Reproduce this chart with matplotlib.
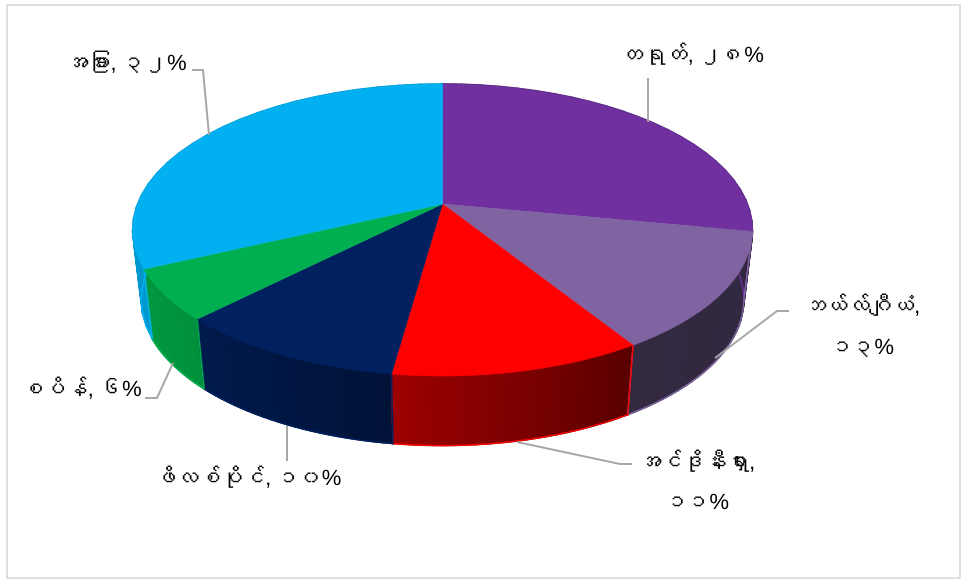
import numpy as np
import matplotlib
matplotlib.use("Agg")
import matplotlib.pyplot as plt
from matplotlib import font_manager as fm
from matplotlib.collections import PolyCollection
from matplotlib.patches import Rectangle
from matplotlib.transforms import Transform
from matplotlib.ft2font import FT2Font

countries = ["တရုတ်", "ဘယ်လ်ဂျီယံ", "အင်ဒိုနီးရှား", "ဖိလစ်ပိုင်", "စပိန်", "အခြား"]
shares = [28.0, 13.1, 11.1, 10.2, 5.6, 32.0]
share_labels = ["၂၈%", "၁၃%", "၁၁%", "၁၀%", "၆%", "၃၂%"]
top_colors = ["#7030A0", "#8064A2", "#FF0000", "#002060", "#00B050", "#00B0F0"]
side_left = ["#4A2070", "#332A42", "#9C0000", "#001A4C", "#00983F", "#0090C8"]
side_right = ["#4A2070", "#302840", "#5A0000", "#001238", "#00903C", "#0098D0"]

# Latin signs from Liberation Sans, Myanmar glyphs from any installed font that has them
families = ["Liberation Sans"]
for f in fm.fontManager.ttflist:
    try:
        if 0x1000 in FT2Font(f.fname).get_charmap():
            families.append(f.name)
            break
    except Exception:
        pass
families.append("DejaVu Sans")
plt.rcParams["font.family"] = families
plt.rcParams["text.hinting"] = "no_hinting"
plt.rcParams["text.hinting_factor"] = 1

CX, CY, A, C, D = 442.5, 204.0, 141.4, 0.178, 305.0
DEPTH, SHRINK = 69.5, 0.972


def project(uv):
    uv = np.asarray(uv, float)
    u, v = uv[..., 0], uv[..., 1]
    w = 1 + C * v
    return np.stack([CX + D * u / w, CY - A * v / w], axis=-1)


class DiscTransform(Transform):
    input_dims = 2
    output_dims = 2
    is_separable = False
    has_inverse = False

    def transform_non_affine(self, values):
        return project(values)


fig = plt.figure(figsize=(9.63, 5.81), dpi=100, facecolor="white")
ax = fig.add_axes([0, 0, 1, 1])

wedges, _ = ax.pie(shares, colors=top_colors, startangle=90, counterclock=False,
                   radius=1.0, wedgeprops=dict(linewidth=0.4))
ax.set_aspect("auto")
ax.set_xlim(0, 963)
ax.set_ylim(581, 0)
ax.axis("off")

disc = DiscTransform() + ax.transData
for w, col in zip(wedges, top_colors):
    w.set_transform(disc)
    w.set_edgecolor(col)
    w.set_zorder(5)

# walls
edges = 90 - np.cumsum([0] + shares) * 3.6
for i in range(len(shares)):
    th = np.radians(np.linspace(edges[i], edges[i + 1], 25))
    rim = project(np.column_stack([np.cos(th), np.sin(th)]))
    base = np.column_stack([CX + (rim[:, 0] - CX) * SHRINK, rim[:, 1] + DEPTH])
    quads = [[rim[k], rim[k + 1], base[k + 1], base[k]] for k in range(len(th) - 1)]
    c0 = np.array(matplotlib.colors.to_rgb(side_left[i]))
    c1 = np.array(matplotlib.colors.to_rgb(side_right[i]))
    t = np.linspace(0, 1, len(quads))[:, None]
    cols = c1 * (1 - t) + c0 * t
    ax.add_collection(PolyCollection(quads, facecolors=cols, edgecolors=cols,
                                     linewidths=1.2, zorder=2))
    ax.plot(base[:, 0], base[:, 1], color=top_colors[i], lw=1.0, zorder=3)
    ax.plot([rim[0, 0], base[0, 0]], [rim[0, 1], base[0, 1]], color=top_colors[i], lw=1.0, zorder=3)
    ax.plot([rim[-1, 0], base[-1, 0]], [rim[-1, 1], base[-1, 1]], color=top_colors[i], lw=1.0, zorder=3)

# frame
ax.add_patch(Rectangle((7, 5), 953, 573, fill=False, ec="#D9D9D9", lw=1.2, zorder=1))

# leaders
leaders = [
    [(648, 78), (648, 122)],
    [(789, 311), (777, 311), (715, 358)],
    [(632, 464), (620, 464), (517, 442)],
    [(287, 461), (287, 426)],
    [(145, 398), (157, 398), (173, 363)],
    [(192, 70), (203, 70), (209, 135)],
]
for pts in leaders:
    xs, ys = zip(*pts)
    ax.plot(xs, ys, color="#A6A6A6", lw=1.4, zorder=6, solid_capstyle="butt")

# labels
lab = dict(va="center", fontsize=16, color="black", zorder=7)
ax.text(692, 56, f"{countries[0]}, {share_labels[0]}", ha="center", **lab)
ax.text(862, 307, f"{countries[1]},", ha="center", **lab)
ax.text(862, 349, share_labels[1], ha="center", **lab)
ax.text(697, 463, f"{countries[2]},", ha="center", **lab)
ax.text(697, 503, share_labels[2], ha="center", **lab)
ax.text(248, 479, f"{countries[3]}, {share_labels[3]}", ha="center", **lab)
ax.text(142, 390, f"{countries[4]}, {share_labels[4]}", ha="right", **lab)
ax.text(187, 64, f"{countries[5]}, {share_labels[5]}", ha="right", **lab)

fig.savefig("out.png", dpi=100)
